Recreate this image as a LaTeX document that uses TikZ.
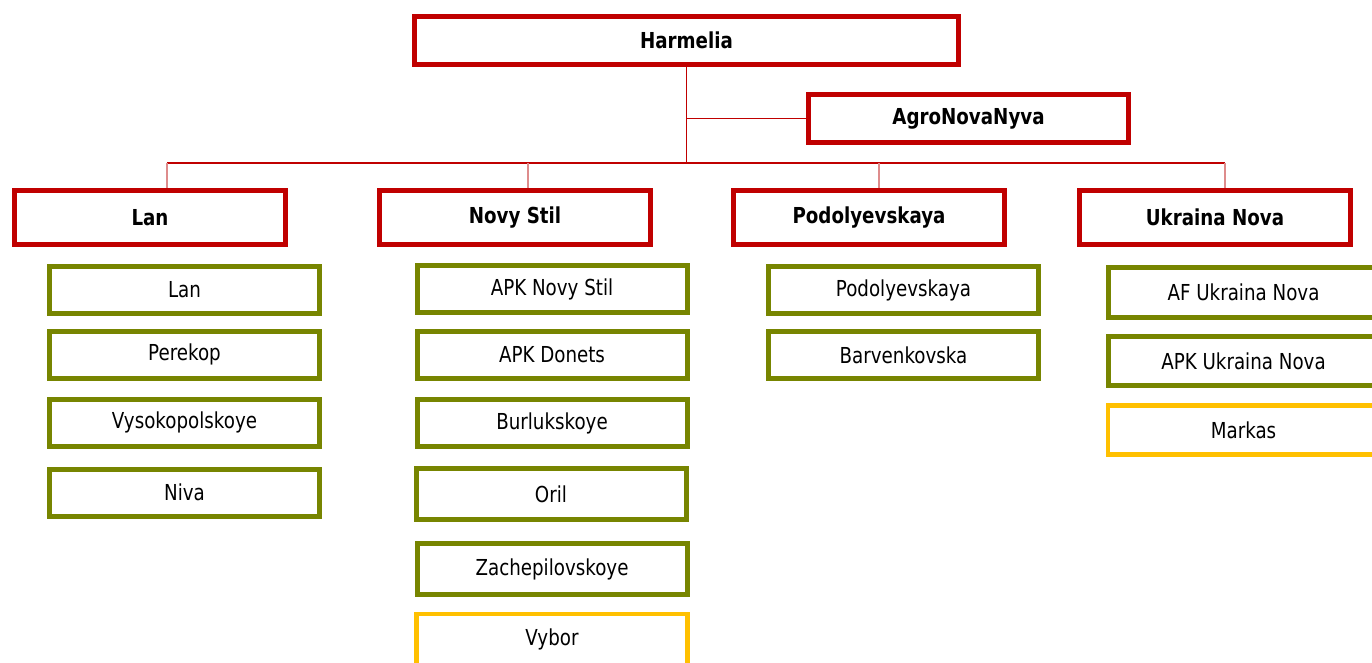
\documentclass[tikz,border=0pt]{standalone}
\usepackage{fontspec}
\setmainfont{DejaVu Sans}[FakeStretch=0.83]
\definecolor{boxred}{RGB}{192,0,0}
\definecolor{boxgreen}{RGB}{119,133,0}
\definecolor{boxyellow}{RGB}{255,192,0}
\definecolor{linkred}{RGB}{222,140,140}

\begin{document}
\begin{tikzpicture}
  [x=1pt,y=-1pt,
   every node/.style={rectangle,fill=white,inner sep=0pt,font=\fontsize{22}{26}\selectfont},
   head/.style={draw=boxred,line width=5pt,font=\bfseries\fontsize{22}{26}\selectfont},
   farm/.style={draw=boxgreen,line width=5pt,minimum width=270pt,minimum height=47pt},
   newfarm/.style={draw=boxyellow,line width=4.5pt,minimum width=271pt,minimum height=49pt}]
  \useasboundingbox (0,0) rectangle (1372,663);
  \clip (0,0) rectangle (1372,663);

  \node[head,minimum width=544pt,minimum height=48pt] (harmelia) at (686.5,40.5) {Harmelia};
  \node[head,minimum width=320pt,minimum height=48pt] (agro) at (968.5,118.5) {AgroNovaNyva};

  \node[head,minimum width=271pt,minimum height=54pt] (lan) at (150,217.5) {Lan};
  \node[head,minimum width=271pt,minimum height=54pt] (novy) at (515,217.5) {Novy Stil};
  \node[head,minimum width=271pt,minimum height=54pt] (podol) at (869,217.5) {Podolyevskaya};
  \node[head,minimum width=271pt,minimum height=54pt] (ukr) at (1215,217.5) {Ukraina Nova};

\node[farm] (lan1) at (184.5,289.5) {Lan};
\node[farm] (lan2) at (184.5,354.5) {Perekop};
\node[farm] (lan3) at (184.5,422.5) {Vysokopolskoye};
\node[farm] (lan4) at (184.5,492.5) {Niva};

\node[farm] (novy1) at (552,289) {APK Novy Stil};
\node[farm] (novy2) at (552,354.5) {APK Donets};
\node[farm] (novy3) at (552,423) {Burlukskoye};
\node[farm,minimum height=51pt] (novy4) at (551,494) {Oril};
\node[farm,minimum height=51pt] (novy5) at (552,569) {Zachepilovskoye};
\node[newfarm,minimum height=51pt] (novy6) at (552,639.5) {Vybor};

\node[farm] (podol1) at (903.5,290) {Podolyevskaya};
\node[farm] (podol2) at (903.5,355) {Barvenkovska};

\node[farm,minimum height=50pt] (ukr1) at (1243.5,292.5) {AF Ukraina Nova};
\node[farm,minimum height=49pt] (ukr2) at (1243.5,361) {APK Ukraina Nova};
\node[newfarm] (ukr3) at (1243.5,430) {Markas};

  \coordinate (busl) at (167,163);
  \coordinate (busr) at (1225,163);

  \draw[boxred,line width=1.6pt] (harmelia.south) -- (harmelia.south |- busl);
  \draw[boxred,line width=1.6pt] (harmelia.south |- agro.west) -- (agro.west);
  \draw[boxred,line width=1.6pt] (busl) -- (busr);
  \foreach \n/\dx in {lan/17,novy/13,podol/10,ukr/10}
    \draw[linkred,line width=1.4pt] ([xshift=\dx pt]\n.north) -- ([xshift=\dx pt]\n.north |- busl);

\end{tikzpicture}
\end{document}
